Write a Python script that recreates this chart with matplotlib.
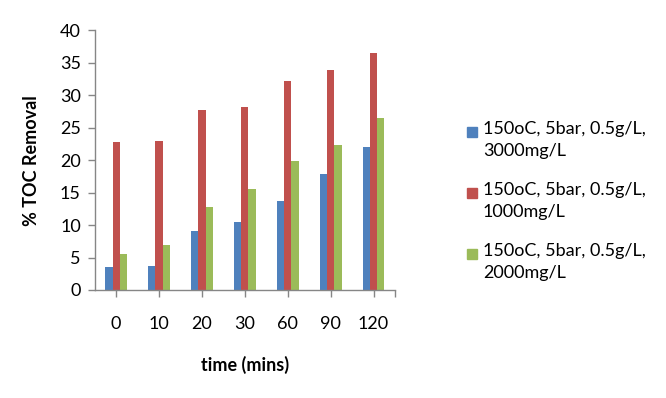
import matplotlib
matplotlib.use("Agg")
import matplotlib.pyplot as plt
from matplotlib.patches import Rectangle
import numpy as np

plt.rcParams['font.family'] = ['Lato', 'DejaVu Sans']

categories = ["0", "10", "20", "30", "60", "90", "120"]
series_names = ["150oC, 5bar, 0.5g/L,\n3000mg/L",
                "150oC, 5bar, 0.5g/L,\n1000mg/L",
                "150oC, 5bar, 0.5g/L,\n2000mg/L"]
s3000 = [3.55, 3.75, 9.1, 10.5, 13.7, 17.8, 22.1]
s1000 = [22.8, 22.9, 27.7, 28.25, 32.15, 33.9, 36.5]
s2000 = [5.55, 6.9, 12.8, 15.55, 19.9, 22.35, 26.55]
colors = ["#4F81BD", "#C0504D", "#9BBB59"]

W, H = 666, 398
fig = plt.figure(figsize=(W/100, H/100), dpi=100)
ax = fig.add_axes([94.7/W, 1-290/H, (395-94.7)/W, (290-30.3)/H])

x = np.arange(len(categories))
bw = 0.17
for i, (vals, c) in enumerate(zip([s3000, s1000, s2000], colors)):
    ax.bar(x + (i-1)*bw, vals, bw, color=c, linewidth=0)

ax.set_xlim(-0.5, len(categories)-0.5)
ax.set_ylim(0, 40)
ax.set_yticks(range(0, 41, 5))
ax.set_xticks(x)
ax.set_xticklabels(categories)
ax.set_xticks([len(categories)-0.5], minor=True)
for s in ["top", "right"]:
    ax.spines[s].set_visible(False)
for s in ["left", "bottom"]:
    ax.spines[s].set_color("#868686")
    ax.spines[s].set_linewidth(1.0)
ax.tick_params(axis='both', which='both', colors="#868686", labelcolor="black", labelsize=13, length=5, width=1.0)
ax.tick_params(axis='x', pad=14)
ax.tick_params(axis='y', pad=5)

ax.set_ylabel("% TOC Removal", fontsize=13, fontweight='bold', labelpad=14)
ax.set_xlabel("time (mins)", fontsize=13, fontweight='bold', labelpad=17)

# legend
ys = [132, 193, 254]
for name, c, yc in zip(series_names, colors, ys):
    fig.add_artist(Rectangle((467/W, 1-(yc+5)/H), 10/W, 10/H, color=c, transform=fig.transFigure))
    fig.text(483/W, 1-(yc-11)/H, name, fontsize=13, va='top', ha='left', linespacing=1.45)

fig.savefig("out.png", dpi=100)
